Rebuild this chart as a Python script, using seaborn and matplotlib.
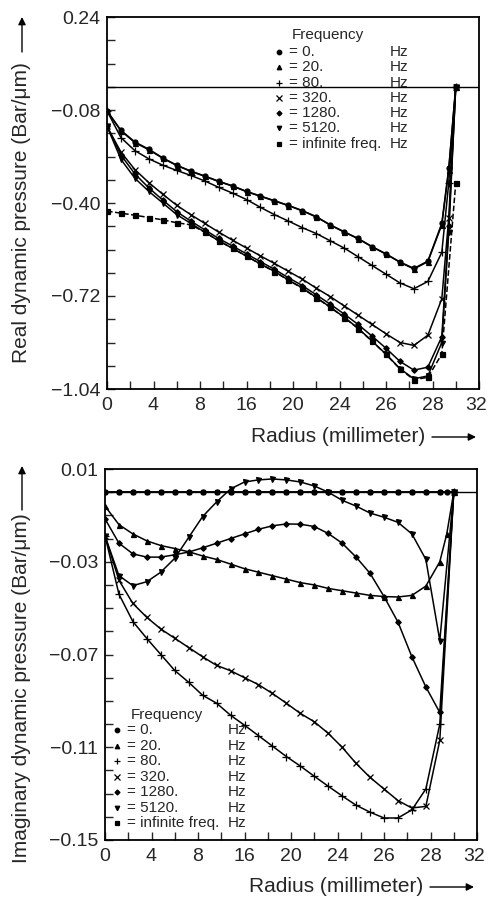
import numpy as np
import pandas as pd
import matplotlib
matplotlib.use("Agg")
import matplotlib.pyplot as plt
import matplotlib.transforms as mtransforms
import seaborn as sns

# ---------------- data ----------------
R = [0.0, 1.2, 2.4, 3.6, 4.8, 6.0, 7.2, 8.4, 9.6, 10.8, 12.0, 13.2, 14.4,
     15.6, 16.8, 18.0, 19.2, 20.4, 21.6, 22.8, 24.0, 25.2, 26.4, 27.6,
     28.8, 29.4, 30.0]

freq_labels = ["0.", "20.", "80.", "320.", "1280.", "5120.", "infinite freq."]

real_0 = [-0.083, -0.15, -0.19, -0.215, -0.245, -0.27, -0.29, -0.307, -0.325,
          -0.341, -0.36, -0.376, -0.392, -0.408, -0.426, -0.447, -0.475, -0.499,
          -0.522, -0.55, -0.575, -0.603, -0.625, -0.60, -0.47, -0.28, 0.0]
real_20 = [-0.083, -0.152, -0.192, -0.217, -0.246, -0.271, -0.291, -0.308, -0.326,
           -0.342, -0.361, -0.377, -0.393, -0.409, -0.427, -0.448, -0.476, -0.500,
           -0.523, -0.551, -0.576, -0.604, -0.627, -0.602, -0.475, -0.285, 0.0]
real_80 = [-0.083, -0.175, -0.22, -0.248, -0.27, -0.288, -0.305, -0.324, -0.346,
           -0.366, -0.388, -0.415, -0.44, -0.462, -0.485, -0.505, -0.53, -0.555,
           -0.585, -0.615, -0.645, -0.675, -0.695, -0.67, -0.57, -0.33, 0.0]
real_320 = [-0.136, -0.225, -0.285, -0.33, -0.37, -0.408, -0.44, -0.47, -0.50,
            -0.528, -0.555, -0.582, -0.608, -0.635, -0.662, -0.693, -0.722, -0.754,
            -0.786, -0.818, -0.85, -0.88, -0.89, -0.855, -0.73, -0.45, 0.0]
real_1280 = [-0.136, -0.235, -0.30, -0.348, -0.39, -0.43, -0.462, -0.492, -0.522,
             -0.548, -0.575, -0.602, -0.628, -0.657, -0.684, -0.716, -0.748, -0.782,
             -0.818, -0.858, -0.90, -0.945, -0.975, -0.965, -0.86, -0.48, 0.0]
real_5120 = [-0.136, -0.25, -0.315, -0.36, -0.40, -0.44, -0.47, -0.50, -0.53,
             -0.556, -0.583, -0.61, -0.635, -0.665, -0.692, -0.725, -0.758, -0.793,
             -0.831, -0.875, -0.92, -0.97, -1.005, -0.995, -0.88, -0.50, 0.0]
real_inf = [-0.428, -0.435, -0.442, -0.45, -0.458, -0.468, -0.475, -0.50, -0.53,
            -0.556, -0.583, -0.61, -0.636, -0.666, -0.693, -0.726, -0.759, -0.794,
            -0.832, -0.876, -0.921, -0.971, -1.008, -1.0, -0.92, None, -0.33]

imag_0 = [0.0, 0.0, 0.0, 0.0, 0.0, 0.0, 0.0, 0.0, 0.0, 0.0, 0.0, 0.0, 0.0, 0.0,
          0.0, 0.0, 0.0, 0.0, 0.0, 0.0, 0.0, 0.0, 0.0, 0.0, 0.0, 0.0, 0.0]
imag_20 = [-0.006, -0.014, -0.018, -0.021, -0.023, -0.0243, -0.0257, -0.0275,
           -0.029, -0.031, -0.033, -0.0345, -0.036, -0.0375, -0.039, -0.040,
           -0.0415, -0.0425, -0.0435, -0.0445, -0.045, -0.0452, -0.0445, -0.0405,
           -0.030, -0.018, 0.0]
imag_80 = [-0.0188, -0.044, -0.0558, -0.0631, -0.070, -0.0769, -0.082, -0.0876,
           -0.091, -0.0962, -0.1005, -0.105, -0.1095, -0.114, -0.1181, -0.1225,
           -0.1268, -0.131, -0.135, -0.138, -0.1405, -0.1405, -0.137, -0.128,
           -0.100, None, 0.0]
imag_320 = [-0.0188, -0.038, -0.048, -0.054, -0.059, -0.063, -0.067, -0.071,
            -0.0747, -0.077, -0.080, -0.083, -0.0868, -0.091, -0.0954, -0.099,
            -0.104, -0.110, -0.117, -0.123, -0.128, -0.133, -0.1362, -0.1355,
            -0.107, None, 0.0]
imag_1280 = [-0.0115, -0.022, -0.0266, -0.028, -0.028, -0.027, -0.0258, -0.024,
             -0.022, -0.020, -0.018, -0.016, -0.0145, -0.0137, -0.0138, -0.0148,
             -0.0178, -0.022, -0.028, -0.035, -0.045, -0.056, -0.071, -0.084,
             -0.095, None, 0.0]
imag_5120 = [-0.0188, -0.036, -0.0403, -0.0386, -0.0345, -0.0285, -0.0195, -0.0105,
             -0.0042, 0.0014, 0.0044, 0.0053, 0.0057, 0.0053, 0.0044, 0.0027,
             0.0, -0.0035, -0.006, -0.009, -0.0108, -0.013, -0.018, -0.029,
             -0.064, None, 0.0]
imag_inf = [0.0, 0.0, 0.0, 0.0, 0.0, 0.0, 0.0, 0.0, 0.0, 0.0, 0.0, 0.0, 0.0, 0.0,
            0.0, 0.0, 0.0, 0.0, 0.0, 0.0, 0.0, 0.0, 0.0, 0.0, 0.0, None, 0.0]

x_ticks = [0, 4, 8, 12, 16, 20, 24, 28, 32]
x_tick_labels = ["0", "4", "8", "16", "20", "24", "26", "28", "32"]
real_yticks = [0.24, -0.08, -0.40, -0.72, -1.04]
real_ytick_labels = ["0.24", "\u22120.08", "\u22120.40", "\u22120.72", "\u22121.04"]
imag_yticks = [0.01, -0.03, -0.07, -0.11, -0.15]
imag_ytick_labels = ["0.01", "\u22120.03", "\u22120.07", "\u22120.11", "\u22120.15"]

# ---------------- styling ----------------
sns.set_style("white")
plt.rcParams['font.family'] = ['Liberation Sans', 'DejaVu Sans']

MARKERS = ['o', '^', '+', 'x', 'D', 'v', 's']
MSIZES = [3.6, 3.6, 5.5, 4.5, 2.8, 3.6, 3.6]

fig = plt.figure(figsize=(4.88, 8.98), dpi=100)
ax1 = fig.add_axes([107 / 488, 1 - 389 / 898, 372 / 488, 372 / 898])
ax2 = fig.add_axes([105 / 488, 1 - 840 / 898, 372 / 488, 371 / 898])


def draw(ax, values, marker, ms, dashed=False):
    df = pd.DataFrame({"r": R, "p": values}).dropna()
    sns.lineplot(data=df, x="r", y="p", ax=ax, color="black", linewidth=1.1,
                 marker=marker, markersize=ms, markeredgecolor="black",
                 markerfacecolor="black", markeredgewidth=0.9,
                 linestyle="--" if dashed else "-",
                 estimator=None, sort=False, legend=False)


real_series = [real_0, real_20, real_80, real_320, real_1280, real_5120, real_inf]
imag_series = [imag_0, imag_20, imag_80, imag_320, imag_1280, imag_5120, imag_inf]

for i, vals in enumerate(real_series):
    draw(ax1, vals, MARKERS[i], MSIZES[i], dashed=(i == 6))
# infinite frequency lies under the 0 Hz curve in the imaginary panel
draw(ax2, imag_series[6], MARKERS[6], 2.2)
for i in [1, 2, 3, 4, 5, 0]:
    draw(ax2, imag_series[i], MARKERS[i], MSIZES[i])

ax1.axhline(0, color="black", lw=1.0)
ax2.axhline(0, color="black", lw=1.0)


def style_axes(ax, ylim, yticks_all, ylab_ticks, ylab_text):
    ax.set_xlim(0, 32)
    ax.set_ylim(*ylim)
    ax.set_xticks(np.arange(0, 33, 2))
    xl = []
    for t in np.arange(0, 33, 2):
        xl.append(x_tick_labels[x_ticks.index(int(t))] if int(t) in x_ticks else "")
    ax.set_xticklabels(xl)
    ax.set_yticks(yticks_all)
    yl = []
    for t in yticks_all:
        match = [lab for v, lab in zip(ylab_ticks, ylab_text) if abs(v - t) < 1e-6]
        yl.append(match[0] if match else "")
    ax.set_yticklabels(yl)
    ax.tick_params(axis="both", direction="in", length=6, width=1.0,
                   labelsize=14, pad=5, top=False, right=False,
                   bottom=True, left=True)
    ax.tick_params(axis="x", pad=6)
    # keep the last x label inside the figure
    last = ax.get_xticklabels()[-1]
    last.set_transform(last.get_transform() +
                       mtransforms.ScaledTranslation(-3 / 100, 0, fig.dpi_scale_trans))
    for sp in ax.spines.values():
        sp.set_visible(True)
        sp.set_color("black")
        sp.set_linewidth(1.3)
    ax.set_xlabel("")
    ax.set_ylabel("")


style_axes(ax1, (-1.04, 0.24), np.round(np.arange(0.24, -1.05, -0.08), 2),
           real_yticks, real_ytick_labels)
style_axes(ax2, (-0.15, 0.01), np.round(np.arange(0.01, -0.151, -0.01), 2),
           imag_yticks, imag_ytick_labels)


def legend(ax, x_mark, x_lab, x_hz, y_title, y0, dy, title_x):
    ax.text(title_x, y_title, "Frequency", transform=ax.transAxes,
            fontsize=11, ha="left", va="center")
    for i, lab in enumerate(freq_labels):
        y = y0 - i * dy
        ax.plot([x_mark], [y], transform=ax.transAxes, marker=MARKERS[i],
                markersize=MSIZES[i] * 0.9, color="black", mec="black",
                mfc="black", mew=0.9, linestyle="none", clip_on=False)
        ax.text(x_lab, y, "= " + lab, transform=ax.transAxes, fontsize=11,
                ha="left", va="center")
        ax.text(x_hz, y, "Hz", transform=ax.transAxes, fontsize=11,
                ha="left", va="center")


legend(ax1, 0.462, 0.49, 0.76, 0.952, 0.906, 0.0411, 0.497)
legend(ax2, 0.032, 0.06, 0.33, 0.337, 0.2965, 0.0418, 0.07)

# axis labels with arrows
fig.text(22 / 488, 1 - 363 / 898, "Real dynamic pressure (Bar/\u03bcm)",
         rotation=90, ha="center", va="bottom", fontsize=15)
fig.text(22 / 488, 1 - 863 / 898, "Imaginary dynamic pressure (Bar/\u03bcm)",
         rotation=90, ha="center", va="bottom", fontsize=15)
fig.text(425 / 488, 1 - 436 / 898, "Radius (millimeter)", ha="right",
         va="center", fontsize=15)
fig.text(423 / 488, 1 - 886 / 898, "Radius (millimeter)", ha="right",
         va="center", fontsize=15)

arrow = dict(arrowstyle="-|>", color="black", lw=1.0, mutation_scale=11,
             shrinkA=0, shrinkB=0)
for (x0, y0, x1, y1) in [(22, 52, 22, 17), (22, 510, 22, 466),
                         (432, 437, 476, 437), (430, 887, 474, 887)]:
    fig.add_artist(matplotlib.patches.FancyArrowPatch(
        (x0 / 488, 1 - y0 / 898), (x1 / 488, 1 - y1 / 898),
        transform=fig.transFigure, **arrow))

fig.savefig("out.png", dpi=100)
